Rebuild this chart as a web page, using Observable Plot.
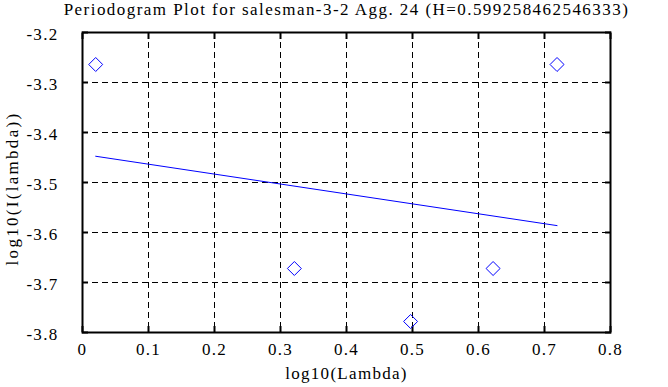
<!DOCTYPE html>
<html>
<head>
<meta charset="utf-8">
<script src="https://cdn.jsdelivr.net/npm/d3@7"></script>
<script src="https://cdn.jsdelivr.net/npm/@observablehq/plot@0.6"></script>
<style>
  html, body { margin: 0; padding: 0; background: #fff; }
  #chart svg { display: block; }
  #chart svg text { font-family: 'Liberation Serif', 'Times New Roman', serif; letter-spacing: 1.3px; fill: #000; }
</style>
</head>
<body>
<div id="chart"></div>
<script>
const title = "Periodogram Plot for salesman-3-2 Agg. 24 (H=0.599258462546333)";
const xLabel = "log10(Lambda)";
const yLabel = "log10(I(lambda))";

// periodogram points
const logLambda = [0.0200, 0.3210, 0.4971, 0.6221, 0.7190];
const logI = [-3.264, -3.672, -3.778, -3.672, -3.264];

// fitted regression line endpoints
const fitX = [0.0200, 0.7190];
const fitY = [-3.4475, -3.5862];

const xTicks = [0, 0.1, 0.2, 0.3, 0.4, 0.5, 0.6, 0.7, 0.8];
const yTicks = [-3.8, -3.7, -3.6, -3.5, -3.4, -3.3, -3.2];

const points = logLambda.map((x, i) => ({x, y: logI[i]}));
const fit = fitX.map((x, i) => ({x, y: fitY[i]}));
const fmt = d => String(+d.toFixed(1));
const font = "'Liberation Serif', 'Times New Roman', serif";

const chart = Plot.plot({
  width: 668,
  height: 387,
  marginLeft: 82,
  marginRight: 58,
  marginTop: 32,
  marginBottom: 55,
  style: {fontFamily: font, fontSize: "17px", color: "#000", background: "#fff"},
  x: {domain: [0, 0.8]},
  y: {domain: [-3.8, -3.2]},
  marks: [
    Plot.gridX(xTicks, {stroke: "#000", strokeOpacity: 1, strokeDasharray: "6,4", strokeWidth: 1}),
    Plot.gridY(yTicks, {stroke: "#000", strokeOpacity: 1, strokeDasharray: "6,4", strokeWidth: 1}),
    Plot.axisX(xTicks, {anchor: "bottom", tickSize: 0, tickPadding: 10, tickFormat: fmt, fontSize: 17, fontFamily: font,
      label: xLabel, labelAnchor: "center", labelArrow: "none", labelOffset: 46}),
    Plot.axisX(xTicks, {anchor: "bottom", tickSize: -6, strokeWidth: 2, text: null, label: null}),
    Plot.axisX(xTicks, {anchor: "top", tickSize: -6, strokeWidth: 2, text: null, label: null}),
    Plot.axisY(yTicks, {anchor: "left", tickSize: 0, tickPadding: 24, tickFormat: fmt, fontSize: 17, fontFamily: font, dy: 2, label: null}),
    Plot.axisY(yTicks, {anchor: "left", tickSize: -6, strokeWidth: 2, text: null, label: null}),
    Plot.axisY(yTicks, {anchor: "right", tickSize: -6, strokeWidth: 2, text: null, label: null}),
    Plot.frame({stroke: "#000", strokeWidth: 2}),
    Plot.line(fit, {x: "x", y: "y", stroke: "#0000ff", strokeWidth: 1}),
    Plot.dot(points, {x: "x", y: "y", symbol: "diamond2", r: 6.3, stroke: "#0000ff", strokeWidth: 1, fill: "none"}),
    Plot.text([yLabel], {frameAnchor: "left", textAnchor: "middle", lineAnchor: "middle", rotate: -90, dx: -70, dy: 6, fontSize: 17, fontFamily: font, fill: "#000"}),
    Plot.text([title], {frameAnchor: "top", dy: -30, fontSize: 17, fontFamily: font, fill: "#000"})
  ]
});
d3.select(chart).selectAll("text").filter(function() { return this.textContent === yLabel; }).style("letter-spacing", "2.3px");
d3.select(chart).selectAll("text").filter(function() { return this.textContent === title; }).style("letter-spacing", "1.45px");
document.getElementById("chart").appendChild(chart);
</script>
</body>
</html>
